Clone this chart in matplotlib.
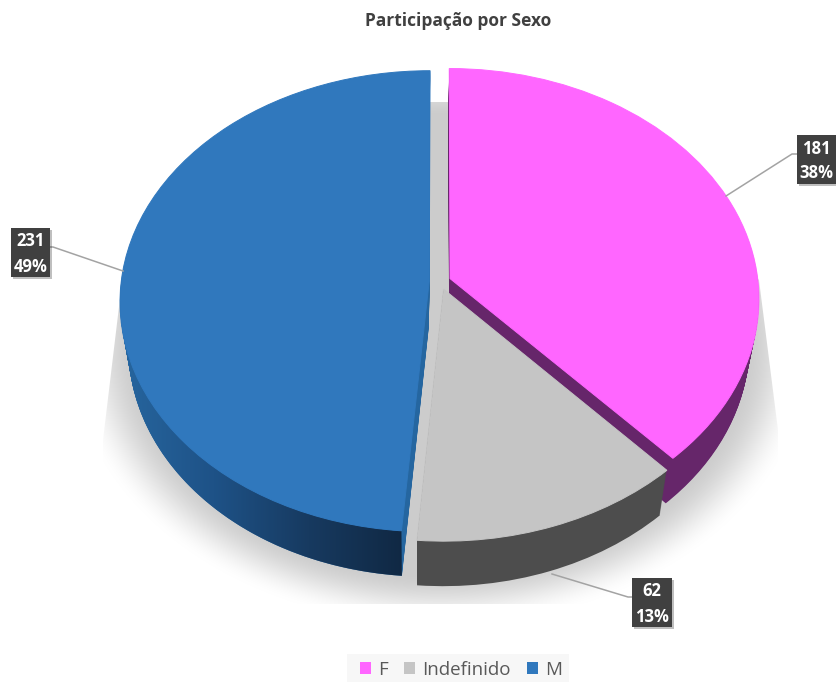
import numpy as np
import matplotlib
matplotlib.use('Agg')
import matplotlib.pyplot as plt
from matplotlib.colors import LinearSegmentedColormap
from matplotlib.patches import Patch, Rectangle
from matplotlib.path import Path
from matplotlib.transforms import Transform

# data
categories = ['F', 'Indefinido', 'M']
counts = [181, 62, 231]
top_colors = ['#ff66ff', '#c5c5c5', '#3078bd']
wall_colors = ['#66266a', '#4d4d4d', '#2566a0']
blue_wall_stops = ['#27669f', '#1e5287', '#173a60', '#102843']
title = 'Participação por Sexo'

# where each label box goes (x, y, w, h in pixels) and its leader line
label_boxes = [(797, 135, 39, 49), (632, 578, 40, 49), (11, 228, 39, 49)]
leaders = [([726, 792, 797], [196, 154, 154]),
           ([552, 628, 632], [574, 597, 597]),
           ([123, 53, 50], [271, 247, 247])]

DEPTH = 45
EXPLODE = 0.035


class Tilt(Transform):
    # fake 3d: unit disc in perspective, pushed down by drop pixels
    input_dims = 2
    output_dims = 2

    def __init__(self, drop=0):
        super().__init__()
        self.drop = drop

    def transform_non_affine(self, values):
        xy = np.asarray(values, dtype=float)
        w = 1 + 0.0868 * xy[:, 1]
        x = 440 + 308 * xy[:, 0] / w
        y = 281.5 - 228.8 * xy[:, 1] / w
        x = 418 + (x - 418) * (1 - 0.028 * self.drop / DEPTH)
        return np.column_stack([x, y + self.drop])


plt.rcParams['font.family'] = ['Open Sans', 'DejaVu Sans']
fig = plt.figure(figsize=(8.36, 6.83), dpi=100)
ax = fig.add_axes([0, 0, 1, 1])


def draw_pie(drop, colors, zorder, edge=False):
    wedges, _ = ax.pie(counts, explode=[EXPLODE] * 3, colors=colors, startangle=90,
                       counterclock=False, radius=1, wedgeprops={'linewidth': 0})
    for i, w in enumerate(wedges):
        w.set_transform(Tilt(drop) + ax.transData)
        w.set_zorder(i * 2 + zorder)
        if edge:
            # hides the dark wall peeking through the antialiased rim
            w.set_edgecolor(colors[i])
            w.set_linewidth(0.7)
    return wedges


# soft shadow under the pie, cut by a trapezoid
yy, xx = np.mgrid[0:683, 0:836]
r = np.hypot((xx - 440) / 322, (yy - 345) / 243)
fade = np.clip((1.16 - r) / 0.22, 0, 1)
fade = fade * fade * (3 - 2 * fade)
shadow = np.zeros((683, 836, 4))
shadow[..., :3] = 0.80
shadow[..., 3] = fade
im = ax.imshow(shadow, extent=(0, 836, 683, 0), aspect='auto', zorder=0)
im.set_clip_path(Path([(300, 102), (580, 102), (759, 280), (778, 430), (778, 604),
                       (103, 604), (103, 440), (121, 290), (300, 102)]), ax.transData)

# side walls, stacked from the bottom up
for d in range(DEPTH, 0, -1):
    wedges = draw_pie(d, wall_colors, 1)
tops = draw_pie(0, top_colors, 2, edge=True)

# gradient on the outer wall of the blue slice
blue = tops[2]
th = np.radians(np.linspace(blue.theta1, blue.theta2, 120))
disc = np.column_stack([blue.center[0] + np.cos(th), blue.center[1] + np.sin(th)])
outer = np.vstack([Tilt(0).transform(disc), Tilt(DEPTH).transform(disc)[::-1]])
cmap = LinearSegmentedColormap.from_list('bluewall', blue_wall_stops)
grad = ax.imshow(np.linspace(0, 1, 256)[None, :], cmap=cmap, extent=(118, 405, 600, 280),
                 aspect='auto', zorder=blue.get_zorder() - 0.5)
grad.set_clip_path(Path(np.vstack([outer, outer[:1]])), ax.transData)

ax.set_xlim(0, 836)
ax.set_ylim(683, 0)
ax.set_aspect('auto')
ax.axis('off')

# leader lines and labels
total = sum(counts)
for n, box, (lx, ly) in zip(counts, label_boxes, leaders):
    ax.plot(lx, ly, color='#a3a3a3', lw=1.1, zorder=20)
    x, y, w, h = box
    ax.add_patch(Rectangle((x + 2, y + 2), w, h, color='#000000', alpha=0.25, lw=0, zorder=21))
    ax.add_patch(Rectangle((x, y), w, h, color='#404040', lw=0, zorder=22))
    ax.text(x + w / 2, y + h / 2 + 1.5, f'{n}\n{n / total * 100:.0f}%', color='white', fontsize=12,
            fontweight='bold', ha='center', va='center', linespacing=1.5, zorder=23)

ax.text(458, 21, title, fontsize=12.5, fontweight='bold', color='#404040', ha='center', va='center')

# legend band
ax.add_patch(Rectangle((347, 654), 222, 28, color='#f7f7f7', lw=0, zorder=10))
handles = [Patch(facecolor=c, label=k) for c, k in zip(top_colors, categories)]
ax.legend(handles=handles, ncols=3, loc='center', bbox_to_anchor=(461 / 836, 1 - 670 / 683),
          frameon=False, fontsize=13.5, labelcolor='#595959', handlelength=0.62, handleheight=0.62,
          handletextpad=0.37, columnspacing=0.85, borderpad=0).set_zorder(11)

fig.savefig('out.png', dpi=100)
